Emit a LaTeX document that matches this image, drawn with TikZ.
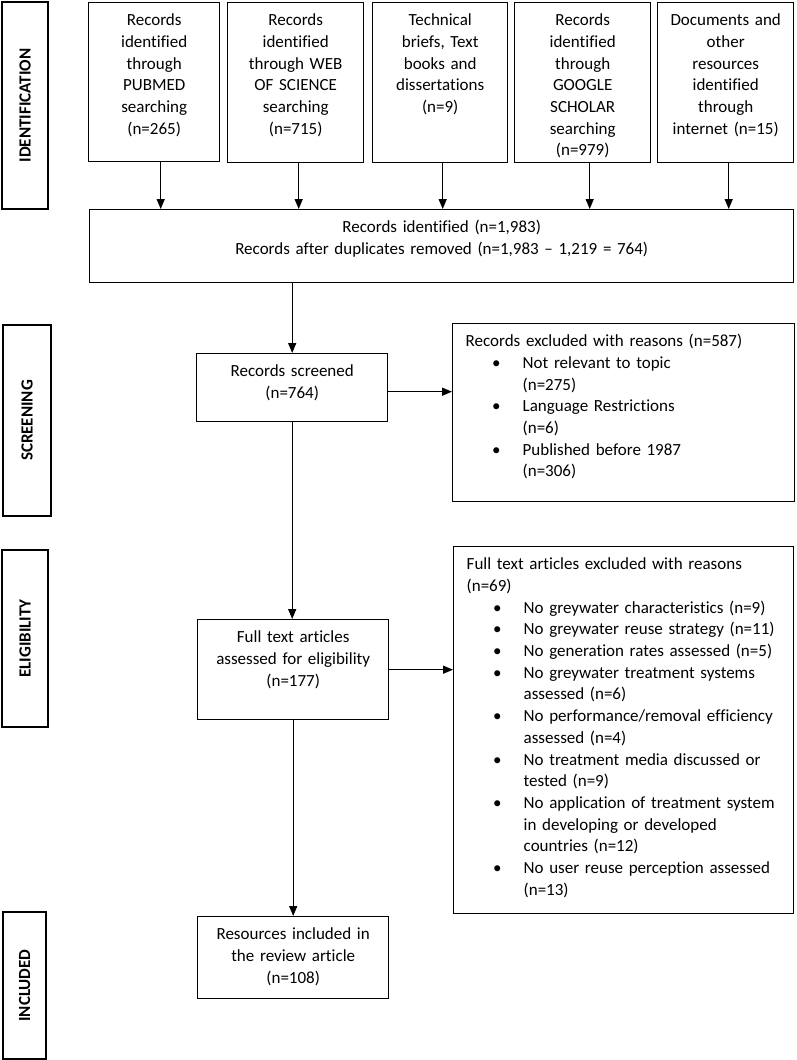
\documentclass[tikz,border=0pt]{standalone}
\usepackage{fontspec}
\setmainfont{Carlito}[Ligatures=CommonOff]
\usetikzlibrary{arrows.meta}

\newenvironment{reasonlist}{%
  \begin{list}{\textbullet}{%
    \setlength{\leftmargin}{57pt}\setlength{\labelsep}{22pt}%
    \setlength{\labelwidth}{35pt}\setlength{\itemsep}{0pt}%
    \setlength{\parsep}{0pt}\setlength{\topsep}{0pt}%
    \setlength{\partopsep}{0pt}}}%
  {\end{list}}

\begin{document}
\begin{tikzpicture}[x=1pt, y=-1pt,
		font=\fontsize{17}{21.7}\selectfont,
		box_style/.style={draw=black, line width=1.4pt, anchor=north west, inner xsep=4pt, inner ysep=0pt, align=center, text height=23pt},
		list_style/.style={box_style, inner xsep=13pt, align=left},
		stage_style/.style={draw=black, line width=1.4pt, rotate=90, inner sep=0pt, font=\fontsize{17}{21.7}\selectfont\bfseries},
		edge_style/.style={draw=black, line width=1.4pt, -{Triangle[length=10pt,width=8pt]}}]

		\useasboundingbox (0,0) rectangle (796,1060);

		% stages
		\node[stage_style, minimum width=207pt, minimum height=46pt] (identification) at (25,105.5) {IDENTIFICATION};
		\node[stage_style, minimum width=191pt, minimum height=48pt] (screening) at (27,420.5) {SCREENING};
		\node[stage_style, minimum width=177pt, minimum height=46pt] (eligibility) at (25,638.5) {ELIGIBILITY};
		\node[stage_style, minimum width=147pt, minimum height=43pt] (included) at (24.5,985.5) {INCLUDED};

		% sources
		\node[box_style, text width=123pt, text depth=136pt] (pubmed) at (88,2) {Records\\identified\\through\\PUBMED\\searching\\(n=265)};
		\node[box_style, text width=128pt, text depth=137pt] (wos) at (227,2) {Records\\identified\\through WEB\\OF SCIENCE\\searching\\(n=715)};
		\node[box_style, text width=127pt, text depth=137pt] (briefs) at (372,2) {Technical\\briefs, Text\\books and\\dissertations\\(n=9)};
		\node[box_style, text width=128pt, text depth=137pt] (scholar) at (514,2) {Records\\identified\\through\\GOOGLE\\SCHOLAR\\searching\\(n=979)};
		\node[box_style, text width=128pt, text depth=137pt] (internet) at (657,2) {Documents and\\other\\resources\\identified\\through\\internet (n=15)};

		% flow
		\node[box_style, text width=696pt, text depth=50pt] (identified) at (89,209) {Records identified (n=1,983)\\Records after duplicates removed (n=1,983 – 1,219 = 764)};
		\node[box_style, text width=183pt, text depth=45pt] (screened) at (196,353) {Records screened\\(n=764)};
		\node[box_style, text width=183pt, text depth=77pt] (fulltext) at (197,619) {Full text articles\\assessed for eligibility\\(n=177)};
		\node[box_style, text width=183pt, text depth=59pt] (resources) at (197,916) {Resources included in\\the review article\\(n=108)};

		% exclusions
		\node[list_style, text width=316pt, text depth=155pt] (excluded) at (452,323) {Records excluded with reasons (n=587)
			\begin{reasonlist}
				\item Not relevant to topic\\(n=275)
				\item Language Restrictions\\(n=6)
				\item Published before 1987\\(n=306)
			\end{reasonlist}};
		\node[list_style, text width=314pt, text depth=344pt] (fullexcluded) at (453,546) {Full text articles excluded with reasons\\(n=69)
			\begin{reasonlist}
				\item No greywater characteristics (n=9)
				\item No greywater reuse strategy (n=11)
				\item No generation rates assessed (n=5)
				\item No greywater treatment systems\\assessed (n=6)
				\item No performance/removal efficiency\\assessed (n=4)
				\item No treatment media discussed or\\tested (n=9)
				\item No application of treatment system\\in developing or developed\\countries (n=12)
				\item No user reuse perception assessed\\(n=13)
			\end{reasonlist}};

		\draw[edge_style] ([xshift=6.5pt]pubmed.south) -- ([xshift=6.5pt]pubmed.south |- identified.north);
		\draw[edge_style] ([xshift=3pt]wos.south) -- ([xshift=3pt]wos.south |- identified.north);
		\draw[edge_style] ([xshift=2.5pt]briefs.south) -- ([xshift=2.5pt]briefs.south |- identified.north);
		\draw[edge_style] ([xshift=7pt]scholar.south) -- ([xshift=7pt]scholar.south |- identified.north);
		\draw[edge_style] ([xshift=3pt]internet.south) -- ([xshift=3pt]internet.south |- identified.north);
		\draw[edge_style] (identified.south -| screened.north) -- (screened.north);
		\draw[edge_style] ([yshift=-4pt]screened.east) -- ([yshift=-4pt]screened.east -| excluded.west);
		\draw[edge_style] (screened.south) -- (screened.south |- fulltext.north);
		\draw[edge_style] (fulltext.east) -- (fulltext.east -| fullexcluded.west);
		\draw[edge_style] (fulltext.south) -- (resources.north);

\end{tikzpicture}
\end{document}
